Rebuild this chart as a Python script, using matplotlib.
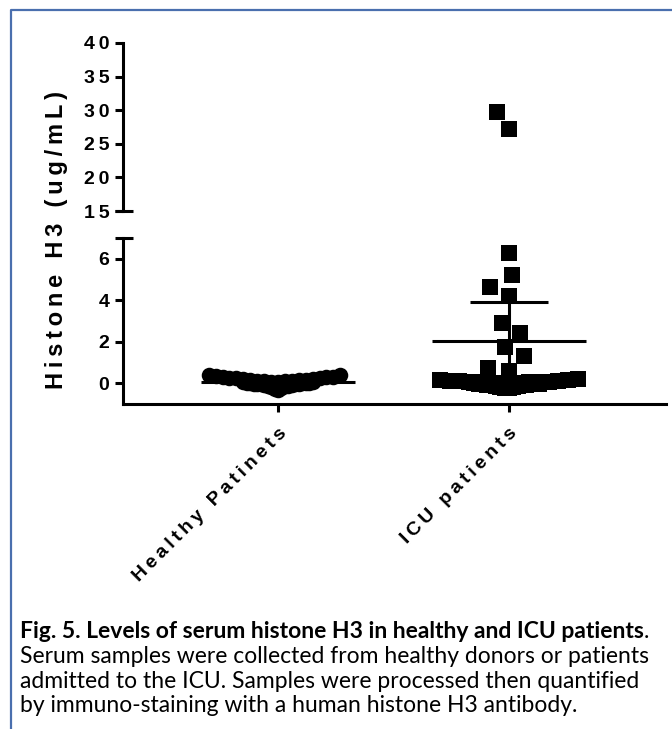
import numpy as np
import matplotlib
matplotlib.use("Agg")
import matplotlib.pyplot as plt
from matplotlib.lines import Line2D

plt.rcParams['font.family'] = ['Liberation Sans', 'DejaVu Sans']

groups = ["Healthy Patinets", "ICU patients"]
healthy = [-0.34, -0.28, -0.22, -0.18, -0.15, -0.13, -0.11, -0.09, -0.08, -0.06,
           -0.05, -0.04, -0.03, -0.02, -0.01, 0.0, 0.01, 0.02, 0.03, 0.04,
           0.05, 0.06, 0.08, 0.09, 0.1, 0.11, 0.12, 0.14, 0.15, 0.17,
           0.19, 0.21, 0.23, 0.24, 0.26, 0.28, 0.3, 0.32, 0.34, 0.38, 0.42]
icu = [-0.25, -0.21, -0.18, -0.16, -0.14, -0.12, -0.1, -0.09, -0.08, -0.07,
       -0.06, -0.05, -0.04, -0.03, -0.02, -0.01, 0.0, 0.01, 0.02, 0.03,
       0.04, 0.05, 0.06, 0.07, 0.08, 0.1, 0.11, 0.13, 0.15, 0.17, 0.2,
       0.58, 0.72, 1.3, 1.73, 2.4, 2.9, 4.2, 4.63, 5.2, 6.27, 27.2, 29.8]
ticks_low = [0, 2, 4, 6]
ticks_high = [15, 20, 25, 30, 35, 40]
y_label = "Histone H3 (ug/mL)"
caption_bold = "Fig. 5. Levels of serum histone H3 in healthy and ICU patients"
caption_rest = ["Serum samples were collected from healthy donors or patients",
                "admitted to the ICU. Samples were processed then quantified",
                "by immuno-staining with a human histone H3 antibody."]

T_CRIT = 2.02  # 95% CI
LW = 2.2
TS = "\u2009"  # thin space


def spaced(s):
    # GraphPad style letter spacing
    return (TS + " " + TS).join(TS.join(w) for w in s.split(" "))


def core_offsets(vals, half, rows=2):
    # dense cluster, split in rows (lower rows narrower); in each row the
    # lowest value sits in the middle and the rest alternate outwards
    order = np.argsort(vals)
    off = np.zeros(len(vals))
    for k, chunk in enumerate(np.array_split(order, rows)):
        n = len(chunk)
        step = half * (k + 1) / rows / max(1, n // 2)
        for r, i in enumerate(chunk):
            j = (r + 1) // 2
            off[i] = -j * step if r % 2 else j * step
    return off


def swarm_offsets(ypix, d):
    placed = []
    off = np.zeros(len(ypix))
    for i in np.argsort(ypix):
        y = ypix[i]
        cands = [0.0]
        for px, py in placed:
            dy = abs(py - y)
            if dy < d:
                dx = np.sqrt(d * d - dy * dy)
                cands += [px - dx, px + dx]
        cands.sort(key=abs)
        for c in cands:
            if all((c - px) ** 2 + (y - py) ** 2 >= d * d - 1e-6 for px, py in placed):
                break
        off[i] = c
        placed.append((c, y))
    return off


W, H = 672, 729
fig = plt.figure(figsize=(W / 100, H / 100), dpi=100)


def box(l, t, r, b):
    return [l / W, 1 - b / H, (r - l) / W, (b - t) / H]


ax_hi = fig.add_axes(box(123, 43, 666, 211))
ax_lo = fig.add_axes(box(123, 238, 666, 404))

for ax in (ax_hi, ax_lo):
    ax.set_xlim(-0.671, 1.680)
    for s in ['top', 'right']:
        ax.spines[s].set_visible(False)
    for s in ['left', 'bottom']:
        ax.spines[s].set_linewidth(LW)
    ax.tick_params(width=LW, length=5.8, labelsize=14, pad=4)
    ax.set_facecolor('none')
ax_lo.set_ylim(-1, 7)
ax_hi.set_ylim(15, 40)
ax_hi.spines['bottom'].set_visible(False)
ax_hi.set_xticks([])

ax_lo.set_yticks(ticks_low, labels=[spaced(str(t)) for t in ticks_low], fontweight='bold')
ax_hi.set_yticks(ticks_high, labels=[spaced(str(t)) for t in ticks_high], fontweight='bold')
ax_lo.set_xticks(range(len(groups)))
ax_lo.set_xticklabels([spaced(g) for g in groups], rotation=45, ha='right', va='top',
                      rotation_mode='anchor', fontweight='bold', fontsize=14)
ax_lo.tick_params(axis='x', pad=9)

# break caps
cap = 10 / 543
ax_hi.plot([-cap * 0.8, cap], [15, 15], color='black', lw=LW,
           transform=ax_hi.get_yaxis_transform(), clip_on=False, solid_capstyle='butt')
ax_lo.plot([-cap * 0.8, cap], [7, 7], color='black', lw=LW,
           transform=ax_lo.get_yaxis_transform(), clip_on=False, solid_capstyle='butt')

px_per_x = ax_lo.transData.transform((1, 0))[0] - ax_lo.transData.transform((0, 0))[0]


def ypix(v):
    ax = ax_lo if v <= 7 else ax_hi
    return ax.transData.transform((0, v))[1]


markers = ['o', 's']
sizes = [125, 135]
for i, vals in enumerate([healthy, icu]):
    vals = np.array(vals)
    core = vals < 0.5
    off = np.zeros(len(vals))
    off[core] = core_offsets(vals[core], 0.30)
    if (~core).any():
        yp = np.array([ypix(v) for v in vals[~core]])
        off[~core] = swarm_offsets(yp, 21) / px_per_x
    for ax in (ax_lo, ax_hi):
        ax.scatter(i + off, vals, marker=markers[i], s=sizes[i], color='black',
                   linewidths=0, zorder=2)

    m = vals.mean()
    ci = T_CRIT * vals.std(ddof=1) / np.sqrt(len(vals))
    ax_lo.hlines(m, i - 0.335, i + 0.335, color='black', lw=LW, zorder=4)
    ax_lo.vlines(i, m - ci, m + ci, color='black', lw=LW, zorder=4)
    ax_lo.hlines([m - ci, m + ci], i - 0.167, i + 0.167, color='black', lw=LW, zorder=4)

fig.text(57 / W, 1 - 240 / H, spaced(y_label), rotation=90, ha='center', va='center',
         fontsize=17, fontweight='bold')

# caption
cap_fs = 16.5
r = fig.canvas.get_renderer()
x0 = 20 / W
t1 = fig.text(x0, 1 - 638 / H, caption_bold, fontsize=cap_fs, fontweight='bold',
              family='Lato', va='baseline')
ext = t1.get_window_extent(r)
fig.text(ext.x1 / W, 1 - 638 / H, ".", fontsize=cap_fs, family='Lato', va='baseline')
for k, line in enumerate(caption_rest):
    fig.text(x0, 1 - (663 + 24.5 * k) / H, line, fontsize=cap_fs, family='Lato', va='baseline')

# frame
fig.add_artist(Line2D([11 / W, 11 / W, 1], [0, 1 - 10 / H, 1 - 10 / H],
                      transform=fig.transFigure, color='#4a6fae', lw=1.6))

fig.savefig('out.png', dpi=100)
